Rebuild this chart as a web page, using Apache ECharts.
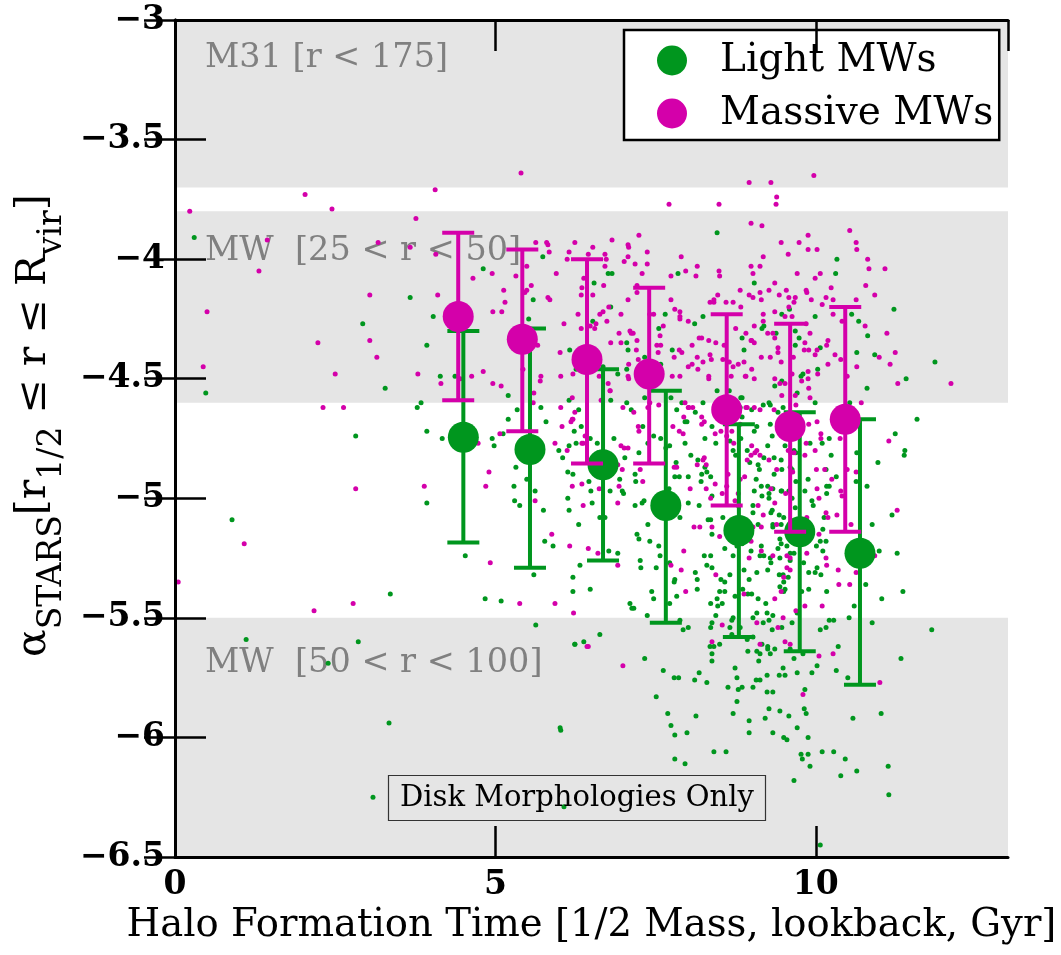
<!DOCTYPE html>
<html lang="en">
<head>
<meta charset="UTF-8">
<script src="https://cdn.jsdelivr.net/npm/echarts@6/dist/echarts.min.js"></script>
<title>alpha stars vs halo formation time</title>
<style>
  html, body { margin: 0; padding: 0; background: #fff; }
  #chart { width: 1061px; height: 955px; }
</style>
</head>
<body>
<div id="chart"></div>
<script>
// binned means with error bars
var lightBinX = [4.50, 5.54, 6.68, 7.66, 8.80, 9.75, 10.69];
var lightBinY = [-4.745, -4.796, -4.86, -5.03, -5.135, -5.14, -5.23];
var lightBinLo = [-5.185, -5.29, -5.26, -5.52, -5.58, -5.64, -5.78];
var lightBinHi = [-4.30, -4.29, -4.46, -4.55, -4.69, -4.64, -4.67];

var massiveBinX = [4.42, 5.42, 6.43, 7.40, 8.61, 9.60, 10.46];
var massiveBinY = [-4.24, -4.335, -4.42, -4.48, -4.63, -4.70, -4.67];
var massiveBinLo = [-4.59, -4.72, -4.855, -4.855, -5.03, -5.14, -5.14];
var massiveBinHi = [-3.89, -3.96, -4.00, -4.12, -4.23, -4.27, -4.20];

// individual galaxies
var lightDots = [
  [0.30,-3.91],[0.48,-4.56],[0.89,-5.09],[1.11,-5.59],[2.39,-5.69],[2.86,-5.60],[3.34,-5.94],[3.09,-6.25],[6.02,-5.97],[5.63,-5.53],[5.09,-5.43],[6.07,-6.29],
  [4.81,-4.04],[3.67,-4.16],[2.93,-4.27],[4.03,-4.24],[3.93,-4.36],[3.28,-4.54],[4.14,-4.49],[4.37,-4.49],[5.20,-4.57],[3.84,-4.60],[3.78,-4.62],[2.82,-4.74],[3.93,-4.72],[4.17,-4.75],[4.95,-4.75],[4.98,-4.78],[5.12,-4.73],[5.34,-4.63],[5.20,-4.67],[5.29,-4.95],[5.32,-4.87],
  [3.93,-5.02],[3.36,-5.40],[4.53,-5.24],[4.84,-5.42],[5.60,-5.32],[5.77,-5.18],[5.75,-5.05],[5.62,-4.97],[5.30,-5.01],[5.38,-5.03],[5.49,-4.92],[5.71,-4.62],[5.79,-4.68],
  [5.99,-4.80],[6.05,-4.83],[6.13,-4.89],[6.21,-4.90],[6.15,-4.78],[6.26,-4.77],[6.23,-4.72],[6.34,-4.70],[6.30,-4.63],[5.90,-5.20],[6.13,-5.00],[6.15,-5.05],[6.30,-5.11],[6.32,-5.28],[6.21,-5.33],[6.21,-5.39],[6.48,-5.38],[6.24,-5.61],[6.38,-5.60],[6.63,-5.57],[6.46,-4.93],[6.49,-4.97],[6.51,-5.02],[6.59,-4.77],[6.85,-4.75],[6.79,-4.97],[6.91,-5.23],[6.77,-5.22],[6.71,-5.08],[6.80,-4.59],
  [8.46,-3.89],[7.85,-4.06],[6.76,-4.06],[6.82,-4.06],[6.54,-4.10],[5.74,-3.99],[5.59,-4.17],[5.52,-4.25],[6.80,-4.20],[6.52,-4.26],[7.65,-4.23],[7.55,-4.29],[8.24,-4.24],[8.11,-4.27],[9.04,-4.10],[6.16,-4.38],[7.05,-4.35],[7.07,-4.38],[7.76,-4.38],[7.58,-4.44],[7.05,-4.46],[8.85,-4.33],[8.88,-4.38],[6.26,-4.46],[6.68,-4.45],[6.91,-4.48],[7.33,-4.41],[8.65,-4.55],[8.83,-4.58],[8.46,-4.55],[7.91,-4.60],[8.24,-4.60],[6.15,-4.59],[7.05,-4.60],[7.33,-4.58],[7.74,-4.58],
  [10.33,-4.00],[10.31,-4.06],[9.47,-4.23],[9.59,-4.21],[9.99,-4.24],[10.56,-4.23],[10.67,-4.26],[10.81,-4.32],[11.22,-4.21],[10.92,-4.40],[11.86,-4.43],[11.41,-4.50],[10.80,-4.54],[10.64,-4.39],[9.68,-4.30],[9.74,-4.33],[9.68,-4.36],[10.07,-4.37],[10.03,-4.46],[9.80,-4.48],[9.77,-4.49],[9.47,-4.51],[9.36,-4.53],[9.16,-4.29],[9.19,-4.28],[9.38,-4.31],[9.99,-4.60],[10.53,-4.60],[9.27,-4.60],[9.18,-4.61],[8.85,-4.58],[9.71,-4.56],
  [6.94,-4.92],[6.98,-4.97],[7.00,-4.98],[7.02,-4.83],[7.12,-4.63],[7.30,-4.70],[7.47,-4.74],[7.38,-4.77],[7.58,-4.75],[7.24,-4.81],[7.18,-4.90],[7.19,-4.93],[7.29,-5.02],[7.32,-5.01],[7.18,-5.03],[7.38,-5.11],[7.21,-5.15],[7.24,-5.17],[7.41,-5.18],[7.55,-5.20],[7.57,-5.24],[7.51,-5.29],[7.72,-5.27],[7.26,-5.26],[7.27,-5.29],[7.44,-5.39],[7.47,-5.42],[7.10,-5.44],[7.13,-5.46],[7.16,-5.46],[7.37,-5.49],[7.80,-5.34],[7.79,-5.35],[7.72,-5.44],[7.93,-5.55],[8.01,-5.54],
  [7.82,-4.85],[7.87,-4.91],[8.01,-5.02],[7.96,-4.77],[7.83,-4.63],[7.96,-4.68],[8.05,-4.82],[8.27,-4.87],[8.30,-4.89],[8.22,-4.90],[8.21,-4.93],[8.36,-4.91],[8.36,-5.09],[8.32,-5.09],[8.26,-5.24],[8.36,-5.24],[8.30,-5.28],[8.38,-5.29],[8.12,-5.31],[8.15,-5.34],[8.15,-5.38],[8.52,-5.34],[8.58,-5.35],[8.66,-5.32],[8.50,-5.39],[8.36,-5.44],[8.47,-5.45],[8.54,-5.44],[8.46,-5.42],[8.38,-5.52],[8.69,-5.51],[8.71,-5.50],[8.74,-5.41],[8.94,-5.40],[9.00,-5.40],[8.88,-5.30],[9.08,-5.48],[9.22,-5.44],[9.27,-5.51],[9.32,-5.55],[9.25,-5.63],[9.36,-5.63],[8.94,-5.64],[8.35,-5.62],
  [9.52,-5.38],[9.43,-5.32],[9.30,-5.27],[9.29,-5.25],[9.19,-5.24],[9.46,-5.19],[9.33,-5.12],[9.30,-5.06],[9.33,-4.96],[9.46,-4.97],[9.15,-4.95],[9.04,-4.97],[9.07,-4.92],[9.12,-4.88],[9.35,-4.90],[9.60,-4.87],[9.61,-4.81],
  [9.02,-5.03],[9.16,-4.99],[9.27,-4.98],[9.25,-4.95],[9.19,-4.83],[9.35,-4.83],[8.85,-4.66],[8.74,-4.61],[9.00,-4.63],[9.29,-4.61],[9.41,-4.64],[9.69,-4.81],[9.69,-4.93],[9.47,-4.97],[9.27,-5.00],[9.02,-5.06],[9.32,-5.05],[9.33,-5.11],[9.46,-5.11],[9.10,-5.11],[8.82,-5.14],[8.75,-5.13],[8.99,-5.22],[9.13,-5.24],[9.41,-5.21],[9.44,-5.25],[9.60,-5.23],[9.49,-5.32],[9.57,-5.33],[9.50,-5.35],[9.44,-5.37],[9.24,-5.48],[9.33,-5.49],[9.18,-5.52],[9.02,-5.50],[8.82,-5.54],[8.69,-5.57],[8.50,-5.61],[8.66,-5.54],[8.93,-5.59],[9.02,-5.58],[9.16,-5.61],[9.29,-5.65],[9.60,-5.63],[9.71,-5.48],
  [8.77,-5.20],[8.71,-5.24],[8.58,-5.21],[8.38,-5.15],[8.55,-5.08],[8.38,-4.99],[8.79,-5.03],[8.97,-4.85],[8.75,-4.82],[8.66,-4.76],[8.44,-4.77],[8.61,-4.69],[8.82,-4.62],[9.49,-4.62],[9.55,-4.74],[9.32,-4.74],[9.25,-4.78],[9.04,-4.72],[9.08,-4.70],[9.29,-4.69],[8.83,-4.75],[8.93,-4.80],[9.10,-4.86],[8.71,-4.80],[9.43,-5.07],[9.44,-5.17],[9.15,-5.20],[8.85,-5.19],[8.96,-5.34],[9.08,-5.31],[9.10,-5.42],[9.25,-5.30],[8.58,-5.39],[8.86,-5.38],[8.44,-5.49],[8.36,-5.54],[7.88,-5.51],[7.83,-5.41],[8.18,-5.03],[7.71,-4.96],[7.88,-5.08],[8.01,-4.91],[7.80,-4.91],[7.66,-4.79],[7.72,-4.78],[8.12,-4.64],[7.99,-4.68],[8.38,-4.70],[8.27,-4.75],[8.16,-4.84],[6.48,-4.75],[6.60,-4.81],[6.63,-5.08],
  [6.24,-5.61],[6.01,-5.96],[7.33,-5.67],[7.62,-5.72],[7.79,-5.75],[7.86,-5.75],[7.51,-5.83],[7.69,-5.90],[7.74,-5.95],[7.80,-5.99],[7.99,-5.98],[8.13,-5.91],[7.80,-6.09],[7.96,-6.11],[8.11,-5.76],[8.18,-5.73],[8.30,-5.77],[8.38,-5.65],[8.38,-5.68],[8.41,-5.62],[8.63,-5.79],[8.74,-5.71],[8.77,-5.75],[8.79,-5.80],[8.85,-5.79],[8.77,-5.85],[8.71,-5.90],[9.08,-5.64],[9.13,-5.65],[9.11,-5.68],[9.02,-5.79],[9.07,-5.76],[9.13,-5.76],[9.24,-5.74],[9.24,-5.81],[9.33,-5.81],[9.25,-5.62],[9.43,-5.74],[9.52,-5.74],[9.49,-5.71],[9.66,-5.67],[9.71,-5.73],[9.94,-5.73],[10.02,-5.70],[9.83,-5.80],[9.82,-5.88],[9.85,-5.90],[9.27,-5.88],[9.44,-5.89],[9.58,-5.91],[9.21,-5.92],[8.96,-5.93],[8.96,-5.98],[9.33,-5.98],[9.50,-6.00],[9.55,-6.01],[9.71,-5.96],[9.88,-6.00],[9.77,-6.07],[9.79,-6.09],[9.88,-6.07],[9.91,-6.12],[9.66,-6.18],[10.10,-6.06],[10.28,-6.06],[10.46,-6.09],[10.39,-6.16],[10.64,-6.14],[10.32,-5.72],[10.50,-5.75],[10.58,-5.92],[11.02,-5.90],[11.13,-6.12],[11.14,-6.24],[10.35,-5.62],[11.33,-5.67],[8.41,-6.06],[8.60,-6.06],[10.07,-6.45],[11.81,-5.55],
  [11.58,-4.67],[11.24,-4.73],[11.39,-4.80],[11.38,-4.82],[10.97,-4.85],[10.64,-4.81],[10.80,-4.95],[10.88,-5.11],[11.19,-5.07],[11.27,-5.23],[10.99,-5.22],[10.78,-5.36],[11.36,-5.39],[11.03,-5.42],[10.60,-5.45],[10.88,-5.52],[10.52,-5.50],[10.21,-5.51],[10.28,-5.51],[10.07,-5.55],[10.16,-5.54],[10.63,-4.93],[10.32,-4.91],[10.21,-4.95],[10.17,-4.95],[10.24,-4.82],[10.21,-4.75],[10.16,-4.88],[10.16,-5.18],[10.11,-5.22],[10.02,-5.29],[9.99,-5.31],[10.08,-5.32],[10.17,-5.39],[9.89,-5.31],[9.89,-5.38],[9.78,-5.39],[9.50,-5.39],[9.66,-5.23],[9.60,-5.26],[9.55,-5.20],[9.81,-5.27],[10.01,-5.20],[10.07,-5.18],[10.11,-5.13],[10.13,-5.08],[10.17,-4.98],[9.94,-5.01],[9.96,-5.03],[9.83,-4.97],[9.63,-5.00],[9.68,-5.04],[9.58,-4.97],[9.47,-4.88],[9.46,-4.84],[9.63,-4.88],[9.66,-4.80],[9.88,-4.92],[9.91,-4.77],[10.10,-4.77],[9.52,-4.78],[9.50,-5.08],[9.47,-5.54],[9.63,-5.52],[9.80,-5.65]
];

var massiveDots = [
  [0.23,-3.80],[2.03,-3.73],[2.45,-3.79],[4.06,-3.71],[3.76,-3.83],[1.44,-3.92],[3.17,-3.93],[3.67,-3.95],[4.07,-3.98],[1.31,-4.05],[3.04,-4.15],[4.10,-4.15],[4.65,-4.08],[4.95,-4.06],[5.32,-4.07],[0.50,-4.22],[5.13,-4.13],[5.15,-4.18],[4.96,-4.22],[5.10,-4.22],[2.23,-4.35],[3.04,-4.34],[3.15,-4.41],[0.44,-4.45],[2.50,-4.48],[3.79,-4.48],[4.45,-4.50],[4.63,-4.49],[4.81,-4.47],[4.15,-4.52],[4.96,-4.52],[5.09,-4.53],[2.31,-4.62],[2.63,-4.62],[4.90,-4.89],[4.85,-4.95],[2.82,-4.96],[3.89,-4.95],[5.07,-4.73],[4.73,-4.77],
  [0.05,-5.35],[1.08,-5.19],[2.17,-5.47],[2.78,-5.44],[5.38,-5.44],[5.93,-5.44],[4.92,-5.27],[5.62,-5.01],
  [5.60,-4.56],[5.59,-4.60],[6.02,-4.62],[6.04,-4.70],[6.18,-4.68],[6.21,-4.67],[6.20,-4.58],[5.93,-4.77],[6.12,-4.80],[6.35,-4.77],[6.40,-4.74],[6.20,-4.95],[6.35,-4.94],[6.37,-5.03],[6.62,-4.96],[5.88,-5.15],[6.16,-5.20],[6.45,-5.21],[6.60,-5.23],[6.91,-5.02],[6.91,-5.28],[6.22,-5.48],[6.43,-5.62],[6.65,-4.59],[6.79,-4.55],
  [5.40,-3.64],[7.71,-3.77],[8.49,-3.77],[8.96,-3.68],[8.99,-3.85],[9.30,-3.68],[9.97,-3.65],[9.39,-3.74],[9.38,-3.77],
  [5.63,-3.93],[5.80,-3.93],[5.82,-3.94],[5.84,-3.97],[6.24,-3.93],[6.15,-3.97],[6.12,-4.00],[6.52,-3.95],[6.45,-3.98],[6.71,-3.98],[6.73,-4.00],[6.71,-4.03],[6.82,-3.92],[7.07,-3.94],[7.08,-3.95],[7.07,-3.99],[7.24,-3.90],[7.01,-4.01],[7.18,-4.02],[7.37,-3.97],[7.37,-4.02],[7.29,-4.06],[7.90,-3.99],[7.74,-4.07],[7.97,-4.05],[8.15,-4.03],[8.13,-4.07],[8.49,-4.05],[8.50,-4.07],[8.99,-4.03],[9.02,-4.06],
  [5.49,-4.03],[5.56,-4.11],[5.49,-4.13],[5.46,-4.14],[5.82,-4.16],[5.85,-4.17],[5.95,-4.06],[6.35,-4.12],[6.34,-4.15],[6.38,-4.08],[6.52,-4.15],[6.69,-4.11],[6.29,-4.23],[6.34,-4.29],[6.07,-4.27],[6.63,-4.23],[6.68,-4.22],[6.74,-4.26],[6.48,-4.28],[6.55,-4.29],[6.57,-4.27],[6.77,-4.20],[6.96,-4.23],[7.07,-4.17],[7.21,-4.11],[7.21,-4.14],[7.41,-4.23],[7.47,-4.23],[7.62,-4.28],[7.74,-4.17],[7.80,-4.21],[7.88,-4.22],[7.88,-4.24],[7.88,-4.25],[8.01,-4.26],[8.47,-4.15],[8.35,-4.18],[8.41,-4.18],[8.41,-4.17],[8.60,-4.18],[8.71,-4.18],[8.83,-4.20],[8.82,-4.13],[8.96,-4.15],[9.02,-4.16],[9.04,-4.28],[8.99,-4.34],[8.91,-4.31],
  [8.18,-4.33],[8.22,-4.33],[8.33,-4.34],[8.44,-4.35],[8.35,-4.40],[8.37,-4.42],[8.55,-4.42],[8.65,-4.43],[8.71,-4.45],[8.79,-4.44],[8.68,-4.49],[8.91,-4.49],[9.04,-4.50],[8.57,-4.36],[8.75,-4.29],[8.15,-4.41],[8.16,-4.46],[8.01,-4.45],[8.07,-4.44],[8.24,-4.43],[8.33,-4.49],[8.33,-4.50],[8.07,-4.36],[7.87,-4.38],[7.91,-4.39],[7.79,-4.41],[7.52,-4.36],[7.58,-4.36],[7.54,-4.39],[7.57,-4.32],[7.15,-4.31],[7.12,-4.31],[7.10,-4.30],[7.21,-4.34],[7.20,-4.38],[6.93,-4.31],[6.80,-4.35],[6.96,-4.35],[7.23,-4.42],[7.08,-4.44],[7.07,-4.49],[7.08,-4.50],[7.88,-4.49],[7.76,-4.49],[6.79,-4.55],[6.76,-4.52],[6.62,-4.49],[6.21,-4.48],[6.02,-4.49],[6.01,-4.39],[5.71,-4.49],[5.70,-4.51],[5.43,-4.46],[5.66,-4.36],[8.01,-4.62],[8.08,-4.62],[7.38,-4.62],[7.55,-4.61],
  [9.16,-3.86],[10.53,-3.88],[10.63,-3.93],[10.64,-3.96],[9.88,-3.90],[9.74,-3.93],[9.46,-3.93],[9.88,-3.96],[10.02,-3.96],[9.57,-3.98],[9.18,-3.99],[9.13,-4.03],[9.71,-4.06],[10.07,-4.06],[9.99,-4.08],[9.36,-4.10],[10.81,-4.00],[10.83,-4.04],[11.08,-4.04],[10.78,-4.11],[10.92,-4.15],[10.24,-4.12],[10.16,-4.16],[10.27,-4.17],[10.10,-4.19],[10.63,-4.17],[9.85,-4.13],[9.86,-4.14],[9.93,-4.17],[9.54,-4.13],[9.58,-4.16],[9.68,-4.16],[9.66,-4.18],[9.43,-4.15],[9.27,-4.13],[9.13,-4.14],[9.15,-4.17],[9.58,-4.20],[9.36,-4.22],[9.18,-4.23],[9.18,-4.26],[9.52,-4.24],[9.63,-4.24],[9.85,-4.27],[9.91,-4.31],[10.19,-4.34],[10.17,-4.36],[10.27,-4.23],[10.41,-4.26],[10.77,-4.28],[11.11,-4.31],[11.24,-4.39],[11.16,-4.44],[12.11,-4.52],[11.28,-4.52],[10.99,-4.41],[10.64,-4.45],[10.30,-4.40],
  [10.02,-4.38],[9.82,-4.38],[9.89,-4.38],[9.99,-4.40],[9.83,-4.35],[10.19,-4.44],[10.03,-4.48],[9.88,-4.47],[9.88,-4.50],[9.89,-4.54],[9.78,-4.51],[9.63,-4.48],[9.65,-4.41],[9.46,-4.43],[9.41,-4.37],[9.41,-4.39],[9.29,-4.41],[9.15,-4.41],[9.36,-4.33],[9.25,-4.31],[9.33,-4.31],[9.00,-4.34],[9.04,-4.35],[8.88,-4.43],[8.90,-4.49],[9.00,-4.46],[9.36,-4.50],[9.44,-4.52],[9.52,-4.52],[9.68,-4.57],[9.91,-4.58],[9.47,-4.57],[9.04,-4.62],[8.91,-4.62],[10.71,-4.60],[10.39,-4.42],[10.49,-4.49],
  [11.14,-4.76],[11.27,-5.05],[10.49,-4.88],[10.63,-4.89],[10.35,-5.30],[10.36,-5.36],[10.53,-5.36],[10.63,-5.31],[10.92,-5.24],[10.55,-5.11],[10.41,-4.99],[10.39,-4.97],[10.33,-5.07],[10.38,-4.75],[10.02,-4.68],[9.89,-4.69],[10.08,-4.73],[10.08,-4.75],[9.99,-4.80],[10.01,-4.88],[10.14,-4.88],[10.25,-4.92],[10.02,-4.96],[10.05,-5.00],[10.16,-5.06],[10.19,-5.08],[9.86,-5.08],[10.16,-5.25],[10.17,-5.28],[10.05,-5.15],[9.86,-5.23],[9.55,-5.29],[9.50,-5.33],[9.60,-5.25],[9.83,-5.45],[10.10,-5.45],[9.69,-5.47],[9.49,-5.50],[9.60,-5.61],[10.05,-5.66],[10.27,-5.65],[9.69,-4.61],[9.66,-4.81],[9.83,-4.82],[9.85,-4.77],
  [6.45,-5.62],[6.99,-5.70],[8.38,-5.60],[9.13,-5.61],[9.80,-5.82],[11.00,-5.77],
  [6.20,-4.67],[6.99,-4.62],[6.96,-4.78],[7.01,-4.79],[7.07,-4.79],[6.98,-4.88],[7.26,-4.88],[7.30,-4.93],[7.24,-4.72],[7.79,-4.87],[7.83,-4.87],[7.77,-4.70],[7.87,-4.72],[7.93,-4.73],[7.94,-4.66],[8.02,-4.62],[7.96,-4.60],[8.22,-4.66],[8.26,-4.68],[8.22,-4.69],[8.43,-4.73],[8.15,-4.86],[8.26,-4.83],[8.24,-4.84],[8.29,-4.86],[8.29,-4.96],[8.04,-4.96],[8.43,-4.94],[8.36,-5.00],[8.10,-5.12],[8.19,-5.12],[8.38,-5.12],[7.94,-5.22],[7.97,-5.39],[7.90,-5.30],[7.74,-5.28],[8.44,-5.32],[8.88,-5.40],[9.15,-5.22],[8.96,-5.25],[8.50,-5.16],[8.89,-4.91],[8.93,-4.84],[8.63,-4.90],
  [8.99,-4.82],[9.05,-4.81],[9.13,-4.82],[9.08,-4.80],[9.00,-4.78],[8.61,-4.74],[8.72,-4.77],[8.69,-4.72],[8.52,-4.72],[8.82,-4.69],[8.69,-4.66],[8.93,-4.62],[9.13,-4.63],[9.35,-4.63],[9.64,-4.72],[9.57,-4.80],[9.64,-4.89],[9.53,-4.98],[9.39,-4.88],[9.27,-4.84],[9.30,-4.96],[9.36,-5.02],[9.10,-5.03],[9.18,-5.07],[9.39,-5.11],[9.15,-5.12],[9.02,-5.12],[8.96,-5.14],[8.99,-5.18],[9.33,-5.24],[9.55,-5.24],[9.60,-5.30],[9.46,-5.39],[9.36,-5.42],[9.41,-5.54],[9.08,-5.52],[8.54,-5.53],[9.52,-5.60],[8.82,-4.92],[8.79,-4.98],[8.54,-4.98],[8.61,-4.95],[8.74,-5.01],[7.23,-4.70],[7.16,-4.64],[7.41,-4.60],[6.91,-4.86],[6.93,-4.95],[6.63,-4.86],[6.37,-4.77],[6.24,-4.64]
];

// grey radial-range bands: top, bottom, label
var bandTop = [-3.0, -3.8, -5.5];
var bandBottom = [-3.7, -4.6, -6.5];
var bandLabels = ['M31 [r < 175]', 'MW  [25 < r < 50]', 'MW  [50 < r < 100]'];

var chart = echarts.init(document.getElementById('chart'));
var serif = 'DejaVu Serif';
var green = '#00961e';
var magenta = '#d400aa';

function minus(v) {
  return (v < 0 ? '\u2212' : '') + Math.abs(v);
}

function errorBars(name, xs, lo, hi, color, z) {
  return {
    type: 'custom',
    name: name,
    z: z,
    silent: true,
    renderItem: function (params, api) {
      var top = api.coord([api.value(0), api.value(2)]);
      var bot = api.coord([api.value(0), api.value(1)]);
      var w = 16;
      var st = { stroke: color, lineWidth: 4 };
      return {
        type: 'group',
        children: [
          { type: 'line', shape: { x1: top[0], y1: top[1], x2: bot[0], y2: bot[1] }, style: st },
          { type: 'line', shape: { x1: top[0] - w, y1: top[1], x2: top[0] + w, y2: top[1] }, style: st },
          { type: 'line', shape: { x1: bot[0] - w, y1: bot[1], x2: bot[0] + w, y2: bot[1] }, style: st }
        ]
      };
    },
    encode: { x: 0, y: [1, 2] },
    data: xs.map(function (x, i) { return [x, lo[i], hi[i]]; })
  };
}

var bandLabelY = [21, 23, 28];
var bands = bandTop.map(function (t, i) {
  return [
    { yAxis: t, name: bandLabels[i], label: { position: [30, bandLabelY[i]] } },
    { yAxis: bandBottom[i] }
  ];
});

var axisCommon = {
  z: 10,
  axisLine: { show: true, lineStyle: { color: '#000', width: 3 } },
  axisTick: { show: true, inside: true, length: 31, lineStyle: { color: '#000', width: 2.5 } },
  splitLine: { show: false }
};

var option = {
  animation: false,
  backgroundColor: '#fff',
  grid: { left: 175, right: 53, top: 20, bottom: 98 },
  title: {
    text: 'Disk Morphologies Only',
    left: 388, top: 775,
    padding: [9, 12, 8, 12],
    borderColor: '#333', borderWidth: 1.2,
    textStyle: { fontFamily: serif, fontSize: 29, fontWeight: 'normal', color: '#000' }
  },
  legend: {
    data: ['Light MWs', 'Massive MWs'],
    orient: 'vertical',
    left: 624, top: 30,
    padding: [11, 6, 7, 33],
    itemGap: 14,
    itemWidth: 30, itemHeight: 30,
    icon: 'circle',
    backgroundColor: '#fff',
    borderColor: '#000', borderWidth: 2.5,
    textStyle: { fontFamily: serif, fontSize: 39, color: '#000', padding: [0, 0, 0, 28] }
  },
  xAxis: [
    Object.assign({
      type: 'value', min: 0, max: 13, interval: 5, position: 'bottom',
      name: 'Halo Formation Time [1/2 Mass, lookback, Gyr]',
      nameLocation: 'middle', nameGap: 40,
      nameTextStyle: { fontFamily: serif, fontSize: 38.6, color: '#000' },
      axisLabel: {
        margin: 12, fontFamily: serif, fontSize: 33, fontWeight: 'bold', color: '#000',
        showMaxLabel: false,
        formatter: function (v) { return v % 5 === 0 ? String(v) : ''; }
      }
    }, axisCommon),
    Object.assign({
      type: 'value', min: 0, max: 13, interval: 5, position: 'top',
      axisLabel: { show: false }
    }, axisCommon)
  ],
  yAxis: [
    Object.assign({
      type: 'value', min: -6.5, max: -3, interval: 0.5, position: 'left',
      name: '{a|\u03b1}{s|STARS}{a|[r}{s|1/2}{a| \u2264 r \u2264 R}{s|vir}{a|]}{h| }',
      nameLocation: 'middle', nameRotate: 90, nameGap: 100,
      nameTextStyle: {
        fontFamily: serif, fontSize: 41, color: '#000',
        padding: [0, 0, 0, 26],
        rich: {
          a: { fontFamily: serif, fontSize: 41, lineHeight: 46, verticalAlign: 'top', color: '#000' },
          s: { fontFamily: serif, fontSize: 33, lineHeight: 33, verticalAlign: 'bottom', color: '#000' },
          h: { fontSize: 1, lineHeight: 55 }
        }
      },
      axisLabel: {
        margin: 10, fontFamily: serif, fontSize: 33, fontWeight: 'bold', color: '#000',
        formatter: minus
      }
    }, axisCommon),
    Object.assign({
      type: 'value', min: -6.5, max: -3, interval: 0.5, position: 'right',
      axisLabel: { show: false }
    }, axisCommon)
  ],
  series: [
    {
      type: 'scatter', name: 'bands', data: [], z: 1, silent: true,
      markArea: {
        silent: true,
        itemStyle: { color: '#e5e5e5' },
        label: { show: true, formatter: '{b}', color: '#808080', fontFamily: serif, fontSize: 33.5 },
        data: bands
      }
    },
    {
      type: 'scatter', name: 'light dots', data: lightDots, z: 2,
      symbol: 'circle', symbolSize: 5, itemStyle: { color: green, opacity: 1 }, silent: true
    },
    {
      type: 'scatter', name: 'massive dots', data: massiveDots, z: 3,
      symbol: 'circle', symbolSize: 5, itemStyle: { color: magenta, opacity: 1 }, silent: true
    },
    errorBars('light err', lightBinX, lightBinLo, lightBinHi, green, 4),
    {
      type: 'scatter', name: 'Light MWs', z: 5,
      symbol: 'circle', symbolSize: 31, itemStyle: { color: green, opacity: 1 },
      data: lightBinX.map(function (x, i) { return [x, lightBinY[i]]; })
    },
    errorBars('massive err', massiveBinX, massiveBinLo, massiveBinHi, magenta, 6),
    {
      type: 'scatter', name: 'Massive MWs', z: 7,
      symbol: 'circle', symbolSize: 31, itemStyle: { color: magenta, opacity: 1 },
      data: massiveBinX.map(function (x, i) { return [x, massiveBinY[i]]; })
    }
  ]
};

chart.setOption(option);
</script>
</body>
</html>
